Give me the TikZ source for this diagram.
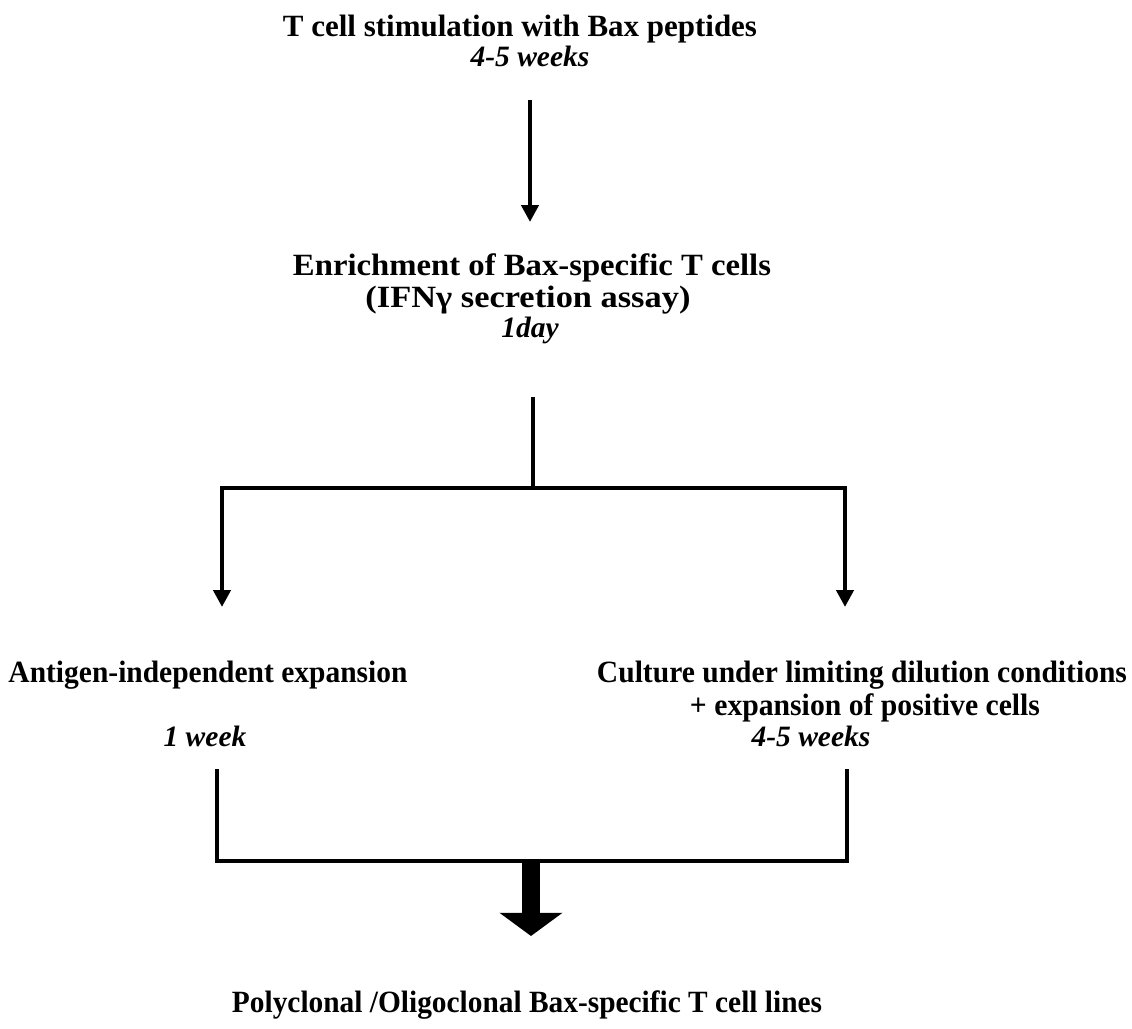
\documentclass[tikz,border=0pt]{standalone}
\usepackage{fontspec}
\setmainfont{Liberation Serif}
\usetikzlibrary{arrows.meta}
\newlength\pxu
\setlength\pxu{0.025cm}
\newcommand\fitw[2]{\resizebox{#1\pxu}{\height}{#2}}
\begin{document}
\begin{tikzpicture}[x=0.025cm,y=-0.025cm,
  main/.style={font=\fontsize{22}{26}\selectfont\bfseries, anchor=base, inner sep=0pt},
  dur/.style={font=\fontsize{21}{25}\selectfont\bfseries\itshape, anchor=base, inner sep=0pt},
  conn/.style={line width=3pt},
  arr/.style={line width=3pt, -{Triangle[width=12pt,length=12pt]}},
  bigarr/.style={line width=12.8pt, -{Triangle[width=44pt,length=16.5pt]}}]
\useasboundingbox (0,0) rectangle (1132,1029);
% texts
\node[main] (t1) at (520,37) {\fitw{474}{T cell stimulation with Bax peptides}};
\node[dur]  (t1d) at (530,67) {4-5 weeks};
\node[main] (t2) at (532,276) {\fitw{478}{Enrichment of Bax-specific T cells}};
\node[main] (t2b) at (528,308) {\fitw{325}{(IFNγ secretion assay)}};
\node[dur]  (t2d) at (530,338) {1day};
\node[main] (t3) at (208,682) {\fitw{399}{Antigen-independent expansion}};
\node[dur]  (t3d) at (205,746) {1 week};
\node[main] (t4) at (862,682) {\fitw{530}{Culture under limiting dilution conditions}};
\node[main] (t4b) at (865,715) {\fitw{350}{+ expansion of positive cells}};
\node[dur]  (t4d) at (811,746) {4-5 weeks};
\node[main] (t5) at (527,1012) {\fitw{590}{Polyclonal /Oligoclonal Bax-specific T cell lines}};
% connector points
\coordinate (a1s) at (530,100);
\coordinate (a1e) at (530,222);
\coordinate (s1) at (533,397);
\coordinate (j1) at (533,488);
\coordinate (le) at (222,607);
\coordinate (re) at (845,607);
\coordinate (ls) at (217,769);
\coordinate (rs) at (847,769);
\coordinate (j2) at (531,861);
\coordinate (fe) at (531,936);
% connectors
\draw[arr] (a1s) -- (a1e);
\draw[conn] (s1) -- (j1);
\draw[arr] (j1) -| (le);
\draw[arr] (j1) -| (re);
\draw[conn] (ls) |- (j2) -| (rs);
\draw[bigarr] (j2) -- (fe);
\end{tikzpicture}
\end{document}
